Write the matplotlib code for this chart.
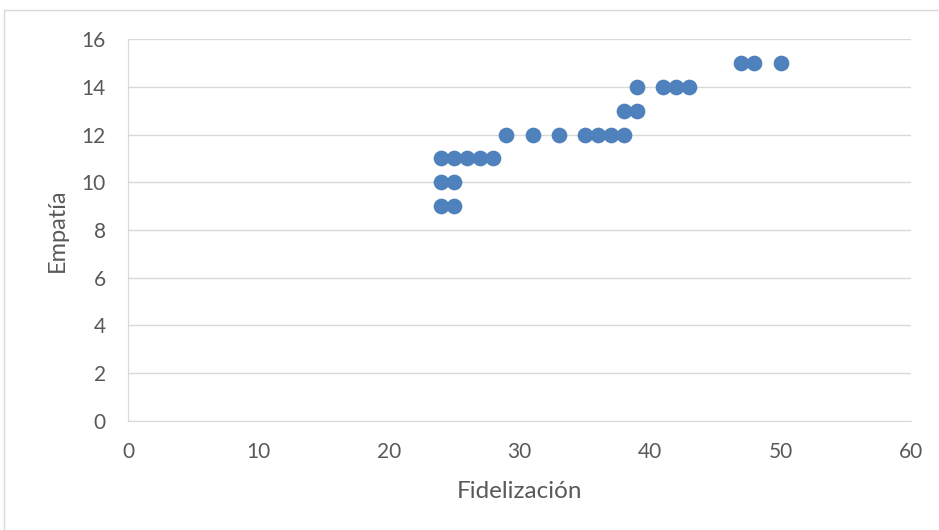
import matplotlib.pyplot as plt
from matplotlib.patches import Rectangle

fidelizacion = [24, 25, 26, 27, 28, 24, 25, 24, 25,
                29, 31, 33, 35, 36, 37, 38, 38, 39,
                39, 41, 42, 43, 47, 48, 50]
empatia = [11, 11, 11, 11, 11, 10, 10, 9, 9,
           12, 12, 12, 12, 12, 12, 12, 13, 13,
           14, 14, 14, 14, 15, 15, 15]

xticks = [0, 10, 20, 30, 40, 50, 60]
yticks = [0, 2, 4, 6, 8, 10, 12, 14, 16]

plt.rcParams['font.family'] = ['Lato', 'DejaVu Sans']
txt = '#595959'
grid = '#d9d9d9'

fig = plt.figure(figsize=(9.39, 5.30), dpi=100)
ax = fig.add_axes([0.1363, 0.2057, 0.8339, 0.7207])

# thin frame around the chart area
fig.patches.append(Rectangle((4 / 939, -0.01), 1.0, 1 - 10 / 530 + 0.01,
                             transform=fig.transFigure, fill=False,
                             edgecolor=grid, linewidth=1))

ax.scatter(fidelizacion, empatia, s=128, color='#4f81bd', zorder=3,
           linewidths=0)

ax.set_xlim(0, 60)
ax.set_ylim(0, 16)
ax.set_xticks(xticks)
ax.set_yticks(yticks)
ax.yaxis.grid(True, color=grid, linewidth=1)
ax.set_axisbelow(True)

for side in ['top', 'right']:
    ax.spines[side].set_visible(False)
ax.spines['left'].set_color(grid)
ax.spines['bottom'].set_color(grid)
ax.tick_params(length=0, labelsize=15, colors=txt)
ax.tick_params(axis='y', pad=16)
ax.tick_params(axis='x', pad=15)

ax.set_xlabel('Fidelización', fontsize=17.5, color=txt, labelpad=14)
ax.set_ylabel('Empatía', fontsize=17, color=txt, labelpad=10)

fig.savefig('out.png', dpi=100)
